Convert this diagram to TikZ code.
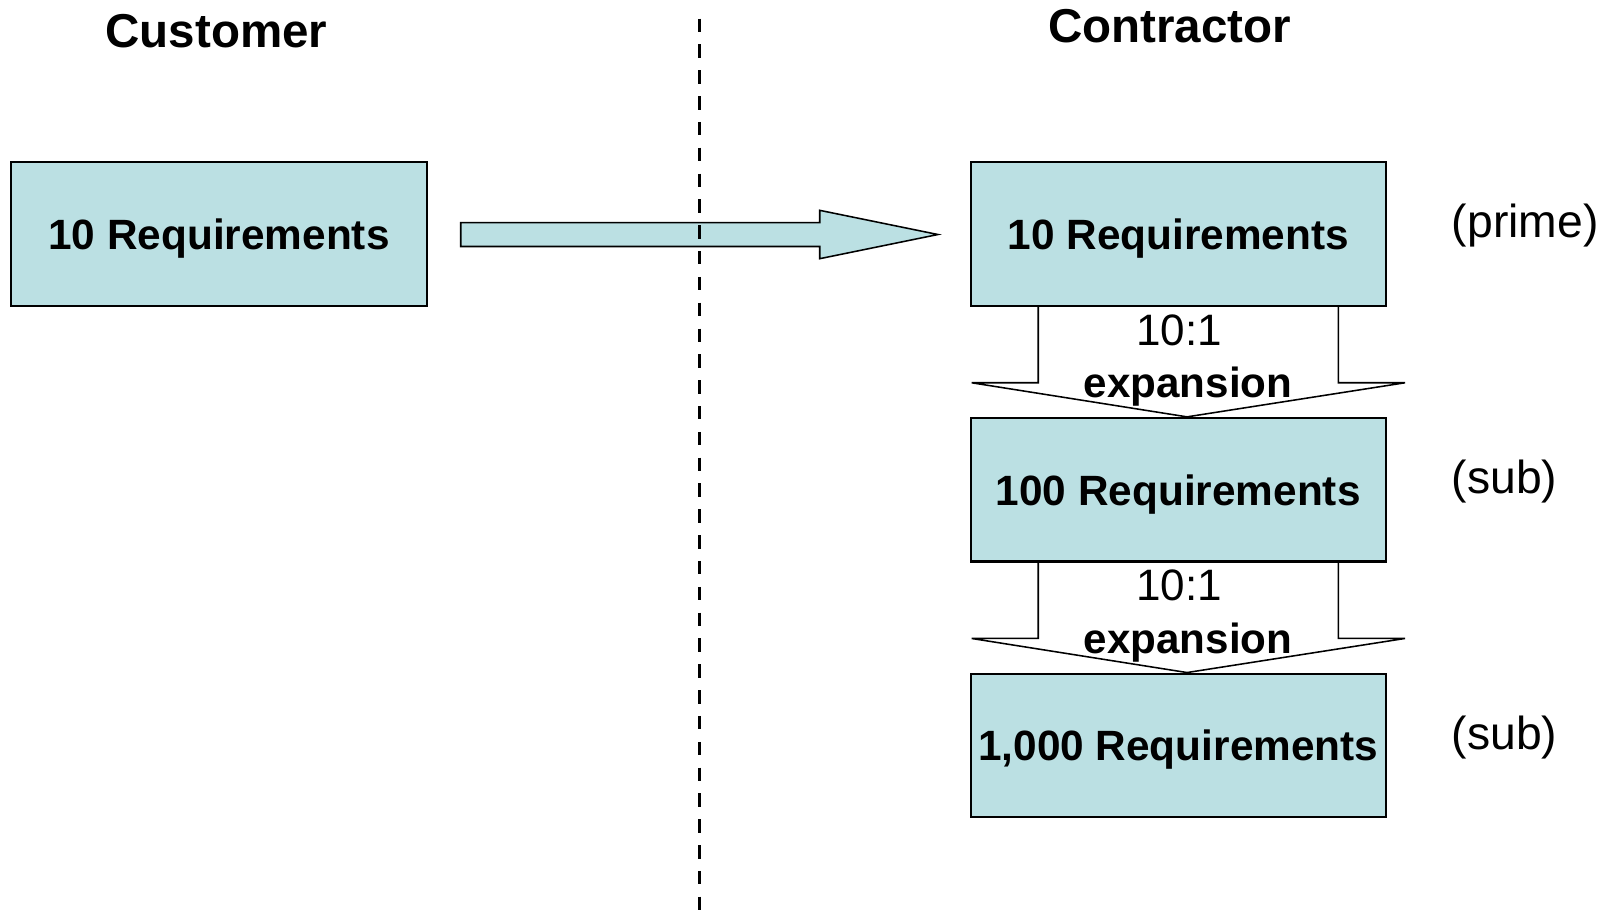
\documentclass[tikz,border=0pt]{standalone}
\usepackage{fontspec}
\setmainfont{Liberation Sans}
\usetikzlibrary{calc}
\definecolor{reqblue}{RGB}{187,224,227}

\begin{document}
\begin{tikzpicture}[x=0.5pt, y=-0.5pt,
    req/.style={draw, fill=reqblue, line width=1pt, minimum width=201pt, minimum height=69.5pt,
      inner sep=0pt, text depth=0pt, font=\fontsize{20.5}{24}\selectfont\bfseries},
    heading/.style={anchor=base, inner sep=0pt, font=\fontsize{23}{27}\selectfont\bfseries},
    tier/.style={anchor=base west, inner sep=0pt, font=\fontsize{22.4}{26}\selectfont},
    ratio/.style={anchor=base, inner sep=0pt, font=\fontsize{21.3}{25}\selectfont},
    expword/.style={anchor=base, inner sep=0pt, font=\fontsize{20.4}{24}\selectfont\bfseries},
    fatarrow/.style={draw, fill=reqblue, line width=0.75pt, line join=miter},
    expand/.style={draw, line width=0.75pt, line join=miter},
    divider/.style={line width=1.5pt, dash pattern=on 6.5pt off 6pt}]
    \useasboundingbox (0,0) rectangle (1571,884);

    \node[heading] (custhead) at (209.5,45.8) {Customer};
    \node[heading] (conthead) at (1132,41.3) {Contractor};

    \node[req] (cust) at (212,226.5) {10 Requirements};
    \node[req] (prime) at (1140.5,226.5) {10 Requirements};
    \node[req] (sub) at (1140.5,474) {100 Requirements};
    \node[req] (subsub) at (1140.5,721.5) {1,000 Requirements};

    \node[tier] (primelbl) at ($(prime.east)+(62.5,3.5)$) {(prime)};
    \node[tier] (sublbl) at ($(sub.east)+(62.5,3.5)$) {(sub)};
    \node[tier] (subsublbl) at ($(subsub.east)+(62.5,3.5)$) {(sub)};

    \draw[fatarrow] ($(cust.east)+(32,-11.1)$) -- ($(prime.west)+(-145,-11.1)$)
        -- ($(prime.west)+(-145,-22.9)$) -- ($(prime.west)+(-30.6,0.5)$)
        -- ($(prime.west)+(-145,23.9)$) -- ($(prime.west)+(-145,12.1)$)
        -- ($(cust.east)+(32,12.1)$) -- cycle;

    \foreach \a/\b in {prime/sub, sub/subsub} {
      \draw[expand] ($(\a.south)+(-135.5,0)$) -- ++(0,73.5) -- ($(\a.south)+(-200,73.5)$)
          -- ($(\b.north)+(8.5,0)$) -- ($(\a.south)+(219.5,73.5)$)
          -- ($(\a.south)+(155,73.5)$) -- ($(\a.south)+(155,0)$);
      \node[ratio] (ratio-\a) at ($(\a.south)+(1,37)$) {10:1};
      \node[expword] (exp-\a) at ($(\a.south)+(9.5,88)$) {expansion};
    }

    \draw[divider] (677,18) -- (677,884);
\end{tikzpicture}
\end{document}
